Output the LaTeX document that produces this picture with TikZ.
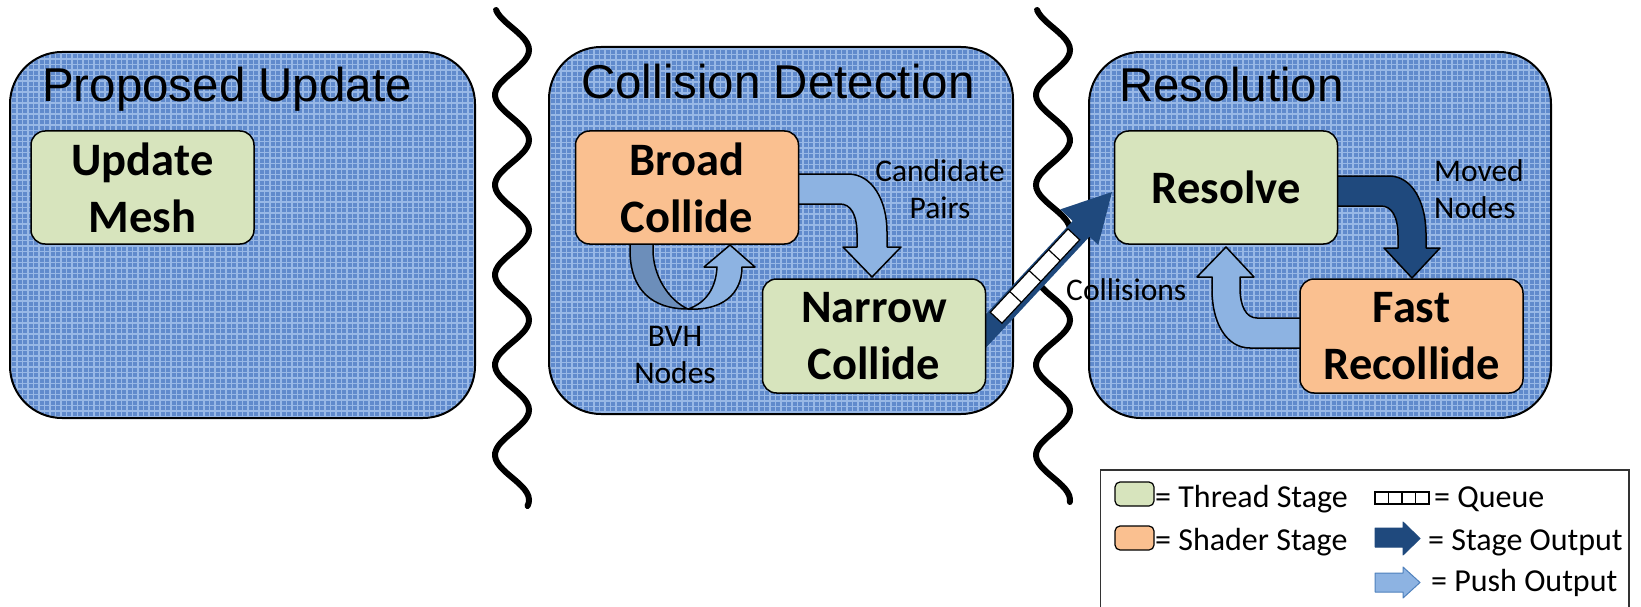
\documentclass[tikz,border=0pt]{standalone}
\usepackage{fontspec}
\setmainfont{Carlito}
\newfontfamily\titlefont{Liberation Sans}

\definecolor{panelblue}{RGB}{96,138,204}
\definecolor{panelline}{RGB}{152,184,230}
\definecolor{threadgreen}{RGB}{215,228,189}
\definecolor{shaderorange}{RGB}{250,192,144}
\definecolor{pushblue}{RGB}{141,179,226}
\definecolor{pushedge}{RGB}{79,129,189}
\definecolor{stageblue}{RGB}{31,73,125}
\definecolor{backblue}{RGB}{108,142,186}

\begin{document}
\begin{tikzpicture}[x=1pt,y=-1pt,
  panel/.style={draw=black, line width=2pt, rounded corners=52pt, fill=panelblue,
    inner sep=0pt, outer sep=0pt,
    path picture={\draw[panelline, line width=1.6pt, step=5.5pt]
      (path picture bounding box.south west) grid (path picture bounding box.north east);}},
  title/.style={anchor=base west, inner sep=0pt, font=\titlefont\fontsize{47.5}{57}\selectfont},
  stagebox/.style={draw=black, line width=1.5pt, rounded corners=14pt,
    minimum width=223pt, minimum height=113pt, inner sep=0pt, outer sep=0pt,
    align=center, font=\bfseries\fontsize{46.5}{57}\selectfont},
  thread/.style={stagebox, fill=threadgreen},
  shader/.style={stagebox, fill=shaderorange},
  lbl/.style={inner sep=0pt, align=center, font=\fontsize{31.5}{37}\selectfont},
  wave/.style={draw=black, line width=6pt, line cap=round},
  bent/.style={draw=black, line width=1.5pt, line join=round},
  legtext/.style={anchor=base west, inner sep=0pt, font=\fontsize{32}{38}\selectfont},
  swatch/.style={draw=black, line width=1.2pt, rounded corners=5pt,
    minimum width=39pt, minimum height=24pt, inner sep=0pt},
]
\useasboundingbox (0,0) rectangle (1641,607);
\fill[white] (0,0) rectangle (1641,607);

% pipeline panels
\node[panel, minimum width=465pt, minimum height=366pt] (p1) at (242.5,235) {};
\node[panel, minimum width=464pt, minimum height=367pt] (p2) at (781,230.5) {};
\node[panel, minimum width=462pt, minimum height=366pt] (p3) at (1320,235) {};

\node[title] (t1) at (42,102) {Proposed Update};
\node[title] (t2) at (581,99) {Collision Detection};
\node[title] (t3) at (1119,102) {Resolution};

% asynchronous boundaries between panels (period 90, so 4 degrees per unit)
\draw[wave] plot[smooth, samples=150, domain=10:506] ({512-17*cos(4*(\x-5))}, \x);
\draw[wave] plot[smooth, samples=150, domain=10:502] ({1053-17*cos(4*(\x-5))}, \x);

% BVH nodes: curved-up arrow below Broad Collide
\filldraw[bent, fill=backblue] (630,240) -- (630,250)
  .. controls (630,290) and (652,309) .. (688,309)
  .. controls (668,300) and (653,275) .. (653,250) -- (653,240) -- cycle;
\filldraw[bent, fill=pushblue] (688,309)
  .. controls (722,311) and (742,294) .. (742,267) -- (755,267) -- (730,245)
  -- (704,267) -- (717,267) .. controls (716,288) and (706,303) .. (688,309) -- cycle;

% candidate pairs: Broad Collide -> Narrow Collide
\filldraw[bent, fill=pushblue] (797,174) -- (848,174)
  .. controls (872,174) and (887,200) .. (887,232) -- (887,247) -- (901,247)
  -- (872,277) -- (843,247) -- (857,247) -- (857,234)
  .. controls (857,215) and (851,204) .. (840,204) -- (797,204) -- cycle;

% moved nodes: Resolve -> Fast Recollide
\filldraw[bent, fill=stageblue] (1335,176) -- (1389,176)
  .. controls (1412,176) and (1426,202) .. (1426,234) -- (1426,248) -- (1440,248)
  -- (1412,278) -- (1384,248) -- (1398,248) -- (1398,236)
  .. controls (1398,217) and (1392,206) .. (1381,206) -- (1335,206) -- cycle;

% collisions: Fast Recollide -> Resolve
\filldraw[bent, fill=pushblue] (1302,348) -- (1250,348)
  .. controls (1226,348) and (1212,322) .. (1212,290) -- (1212,277) -- (1197,277)
  -- (1226,247) -- (1254,277) -- (1240,277) -- (1240,288)
  .. controls (1240,306) and (1246,318) .. (1257,318) -- (1302,318) -- cycle;

% queued stage output: Narrow Collide -> Resolve
\begin{scope}[shift={(1112,192)}, rotate=47]
  \fill[stageblue] (0,0) -- (-48,-26) -- (-48,-9) -- (-210,-9) -- (-210,14)
    -- (-48,14) -- (-48,26) -- cycle;
  \draw[fill=white, line width=1.2pt] (-171,-7) rectangle (-57,9);
  \foreach \q in {-142.5,-114,-85.5} \draw[line width=1.2pt] (\q,-7) -- (\q,9);
\end{scope}

% stages
\node[thread] (um) at (142.5,187.5) {Update\\Mesh};
\node[shader] (bc) at (687,187.5) {Broad\\Collide};
\node[thread, minimum height=114pt] (nc) at (874,336) {Narrow\\Collide};
\node[thread] (rs) at (1226,187.5) {Resolve};
\node[shader, minimum height=114pt] (fr) at (1411.5,336) {Fast\\Recollide};

% arrow labels
\node[lbl] (lcp) at (940,189.5) {Candidate\\Pairs};
\node[lbl] (lbvh) at (675,355.3) {BVH\\Nodes};
\node[lbl, align=left, anchor=west] (lmn) at (1434,189.5) {Moved\\Nodes};
\node[lbl, anchor=base west] (lcol) at (1066,300) {Collisions};

% legend
\draw[line width=1.2pt, draw=black!80] (1100.5,612) -- (1100.5,470) -- (1629,470) -- (1629,612);
\node[swatch, fill=threadgreen] (lg1) at (1134.5,494) {};
\node[swatch, fill=shaderorange] (lg2) at (1134.5,538) {};
\node[legtext] (lt1) at (1155,507) {= Thread Stage};
\node[legtext] (lt2) at (1155,550) {= Shader Stage};

\node[draw=black, line width=1.2pt, fill=white, minimum width=54pt, minimum height=12pt,
  inner sep=0pt] (lq) at (1402,498) {};
\foreach \q in {1388.5,1402,1415.5} \draw[line width=1.2pt] (\q,492) -- (\q,504);
\node[legtext] (lt3) at (1434,507) {= Queue};

\filldraw[fill=stageblue, draw=stageblue, line width=1pt, line join=round]
  (1375,528) -- (1403,528) -- (1403,522) -- (1420,538.5) -- (1403,555)
  -- (1403,547) -- (1375,547) -- cycle;
\node[legtext] (lt4) at (1428,550) {= Stage Output};

\filldraw[fill=pushblue, draw=pushedge, line width=1pt, line join=round]
  (1375,573) -- (1403,573) -- (1403,567) -- (1420,582.5) -- (1403,598)
  -- (1403,592) -- (1375,592) -- cycle;
\node[legtext] (lt5) at (1431,591) {= Push Output};
\end{tikzpicture}
\end{document}
